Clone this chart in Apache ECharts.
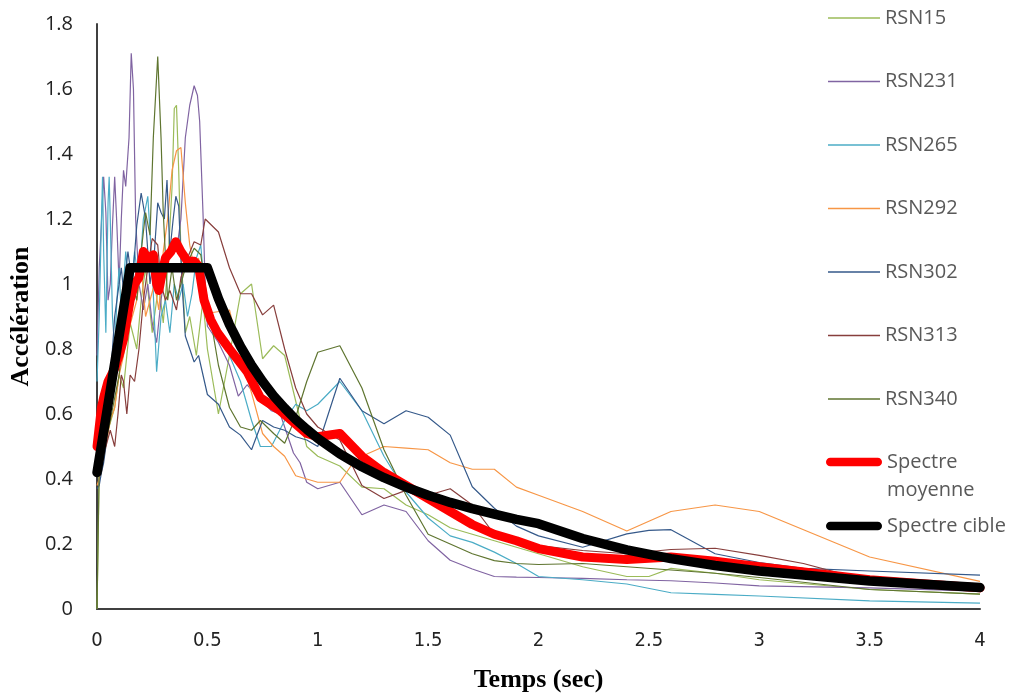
<!DOCTYPE html>
<html>
<head>
<meta charset="utf-8">
<script src="https://cdn.jsdelivr.net/npm/echarts@6/dist/echarts.min.js"></script>
<style>
html,body{margin:0;padding:0;background:#fff;}
#chart{width:1016px;height:698px;}
</style>
</head>
<body>
<div id="chart"></div>
<script>
// ---- Data (period in sec, spectral acceleration) ----
const seriesNames = ['RSN15','RSN231','RSN265','RSN292','RSN302','RSN313','RSN340','Spectre moyenne','Spectre cible'];

const rsn15 = [[0,0],[0.01,0.42],[0.02,0.45],[0.05,0.55],[0.08,0.62],[0.1,0.72],[0.12,0.68],[0.15,0.88],[0.18,0.8],[0.2,0.95],[0.22,1.05],[0.25,0.85],[0.28,1.0],[0.3,0.88],[0.32,1.05],[0.34,1.3],[0.35,1.54],[0.36,1.55],[0.37,1.35],[0.38,1.1],[0.4,0.85],[0.42,0.9],[0.45,0.78],[0.48,0.95],[0.5,0.8],[0.55,0.6],[0.6,0.78],[0.65,0.97],[0.7,1.0],[0.75,0.77],[0.8,0.81],[0.85,0.78],[0.9,0.64],[0.95,0.5],[1.0,0.47],[1.1,0.44],[1.2,0.375],[1.3,0.37],[1.4,0.32],[1.5,0.29],[1.6,0.25],[1.7,0.23],[1.8,0.21],[1.9,0.19],[2.0,0.17],[2.2,0.13],[2.4,0.1],[2.5,0.1],[2.6,0.125],[2.8,0.11],[3.0,0.09],[3.5,0.06],[4.0,0.046]];

const rsn231 = [[0,0.78],[0.01,1.05],[0.02,1.19],[0.03,1.33],[0.04,1.22],[0.05,0.95],[0.06,1.0],[0.07,1.18],[0.08,1.33],[0.09,1.18],[0.1,1.0],[0.11,1.2],[0.12,1.35],[0.13,1.3],[0.145,1.45],[0.155,1.71],[0.165,1.6],[0.175,1.2],[0.19,1.0],[0.21,0.92],[0.23,1.0],[0.25,0.88],[0.27,0.82],[0.29,0.95],[0.31,1.05],[0.33,1.1],[0.36,1.1],[0.38,1.2],[0.4,1.45],[0.42,1.55],[0.44,1.61],[0.455,1.58],[0.465,1.5],[0.48,1.22],[0.49,1.0],[0.5,0.87],[0.55,0.82],[0.6,0.75],[0.64,0.655],[0.68,0.69],[0.72,0.66],[0.79,0.61],[0.83,0.6],[0.89,0.48],[0.92,0.45],[0.95,0.39],[1.0,0.37],[1.1,0.39],[1.2,0.29],[1.3,0.32],[1.4,0.3],[1.5,0.21],[1.6,0.15],[1.7,0.123],[1.8,0.1],[1.9,0.098],[2.0,0.097],[2.2,0.094],[2.4,0.09],[2.6,0.087],[2.8,0.08],[3.0,0.071],[3.5,0.065],[4.0,0.055]];

const rsn265 = [[0,0.7],[0.01,0.9],[0.02,1.2],[0.025,1.33],[0.03,1.1],[0.04,0.85],[0.05,1.25],[0.055,1.33],[0.06,1.2],[0.07,0.9],[0.08,0.8],[0.09,0.95],[0.1,1.05],[0.11,0.9],[0.12,1.0],[0.13,1.1],[0.15,0.95],[0.17,1.1],[0.19,1.0],[0.21,1.2],[0.23,1.27],[0.25,1.05],[0.27,0.73],[0.29,0.9],[0.31,0.95],[0.33,0.85],[0.35,1.0],[0.37,0.95],[0.39,1.0],[0.41,0.9],[0.43,0.97],[0.45,1.08],[0.47,1.12],[0.49,0.95],[0.5,0.9],[0.55,0.85],[0.6,0.78],[0.65,0.7],[0.7,0.58],[0.74,0.5],[0.79,0.5],[0.85,0.58],[0.9,0.63],[0.95,0.61],[1.0,0.63],[1.1,0.7],[1.2,0.61],[1.3,0.47],[1.4,0.36],[1.5,0.28],[1.6,0.225],[1.7,0.205],[1.8,0.175],[1.9,0.14],[2.0,0.1],[2.2,0.09],[2.4,0.077],[2.6,0.05],[2.8,0.045],[3.0,0.04],[3.5,0.025],[4.0,0.018]];

const rsn292 = [[0,0.38],[0.02,0.42],[0.04,0.5],[0.06,0.58],[0.08,0.62],[0.1,0.72],[0.12,0.78],[0.14,0.85],[0.16,0.9],[0.18,0.95],[0.2,1.05],[0.22,0.9],[0.24,0.95],[0.26,1.0],[0.28,0.92],[0.3,1.1],[0.32,1.2],[0.34,1.35],[0.36,1.41],[0.38,1.42],[0.4,1.25],[0.42,1.12],[0.44,1.05],[0.46,1.08],[0.48,1.0],[0.5,0.91],[0.6,0.92],[0.65,0.78],[0.7,0.665],[0.75,0.54],[0.8,0.5],[0.85,0.47],[0.9,0.41],[0.95,0.4],[1.0,0.39],[1.1,0.39],[1.15,0.44],[1.2,0.47],[1.3,0.5],[1.4,0.495],[1.5,0.49],[1.6,0.45],[1.7,0.43],[1.8,0.43],[1.9,0.375],[2.0,0.35],[2.2,0.3],[2.4,0.24],[2.6,0.3],[2.8,0.32],[3.0,0.3],[3.5,0.16],[4.0,0.085]];

const rsn302 = [[0,0.37],[0.01,0.38],[0.02,0.42],[0.03,0.45],[0.04,0.5],[0.05,0.6],[0.06,0.7],[0.07,0.8],[0.08,0.9],[0.09,0.95],[0.1,1.0],[0.11,1.05],[0.12,0.98],[0.14,1.1],[0.16,1.0],[0.18,1.18],[0.2,1.28],[0.22,1.2],[0.24,1.0],[0.26,1.1],[0.275,1.25],[0.29,1.22],[0.305,1.2],[0.317,1.32],[0.33,1.1],[0.345,1.2],[0.357,1.27],[0.37,1.24],[0.385,1.0],[0.4,0.84],[0.42,0.8],[0.44,0.76],[0.46,0.78],[0.5,0.66],[0.55,0.63],[0.6,0.56],[0.65,0.535],[0.7,0.49],[0.75,0.58],[0.8,0.56],[0.85,0.55],[0.9,0.53],[0.95,0.52],[1.0,0.5],[1.1,0.71],[1.2,0.61],[1.3,0.57],[1.4,0.61],[1.5,0.59],[1.6,0.535],[1.7,0.376],[1.8,0.31],[1.9,0.255],[2.0,0.225],[2.2,0.19],[2.4,0.231],[2.5,0.242],[2.6,0.244],[2.8,0.17],[3.0,0.143],[3.2,0.125],[3.5,0.117],[4.0,0.104]];

const rsn313 = [[0,0.45],[0.02,0.48],[0.04,0.5],[0.06,0.55],[0.08,0.5],[0.095,0.6],[0.11,0.72],[0.12,0.7],[0.135,0.6],[0.15,0.72],[0.17,0.7],[0.19,0.8],[0.21,0.95],[0.23,1.05],[0.25,1.14],[0.275,1.12],[0.29,1.0],[0.31,0.95],[0.33,0.98],[0.36,0.92],[0.38,1.02],[0.41,1.08],[0.44,1.13],[0.47,1.12],[0.49,1.2],[0.55,1.16],[0.6,1.05],[0.65,0.97],[0.7,0.97],[0.75,0.905],[0.8,0.935],[0.85,0.8],[0.9,0.68],[0.95,0.6],[1.0,0.56],[1.1,0.52],[1.2,0.38],[1.3,0.34],[1.4,0.365],[1.5,0.35],[1.6,0.37],[1.7,0.32],[1.8,0.23],[1.9,0.2],[2.0,0.195],[2.2,0.18],[2.4,0.17],[2.6,0.183],[2.8,0.187],[3.0,0.165],[3.2,0.14],[3.5,0.086],[4.0,0.06]];

const rsn340 = [[0,0],[0.01,0.45],[0.02,0.48],[0.04,0.52],[0.06,0.58],[0.08,0.65],[0.1,0.72],[0.12,0.85],[0.14,0.9],[0.16,1.0],[0.18,0.95],[0.2,1.1],[0.22,1.22],[0.24,1.15],[0.255,1.45],[0.275,1.7],[0.29,1.45],[0.3,1.22],[0.32,0.95],[0.34,1.05],[0.36,0.95],[0.38,1.0],[0.4,1.05],[0.42,1.08],[0.44,1.11],[0.47,1.09],[0.5,0.95],[0.55,0.75],[0.6,0.62],[0.65,0.56],[0.7,0.55],[0.74,0.58],[0.8,0.54],[0.85,0.51],[0.9,0.59],[0.95,0.7],[1.0,0.79],[1.1,0.81],[1.2,0.68],[1.3,0.49],[1.4,0.35],[1.5,0.23],[1.6,0.2],[1.7,0.17],[1.8,0.149],[1.9,0.14],[2.0,0.137],[2.2,0.14],[2.4,0.13],[2.6,0.12],[2.8,0.11],[3.0,0.097],[3.5,0.06],[4.0,0.046]];

const spectreMoyenne = [[0,0.5],[0.02,0.62],[0.03,0.65],[0.05,0.7],[0.08,0.74],[0.1,0.78],[0.12,0.83],[0.15,0.95],[0.17,1.0],[0.19,1.02],[0.21,1.1],[0.235,1.075],[0.255,1.09],[0.27,1.0],[0.28,0.98],[0.3,1.05],[0.31,1.08],[0.335,1.1],[0.357,1.13],[0.38,1.1],[0.41,1.07],[0.44,1.07],[0.46,1.055],[0.485,0.95],[0.515,0.89],[0.546,0.85],[0.6,0.8],[0.68,0.73],[0.74,0.65],[0.83,0.61],[0.95,0.54],[1.0,0.53],[1.1,0.54],[1.2,0.47],[1.3,0.42],[1.4,0.38],[1.5,0.34],[1.6,0.3],[1.7,0.26],[1.8,0.23],[1.9,0.21],[2.0,0.186],[2.2,0.16],[2.4,0.152],[2.6,0.16],[2.8,0.147],[3.0,0.13],[3.5,0.09],[4.0,0.065]];

const spectreCible = [[0,0.42],[0.15,1.05],[0.5,1.05],[0.55,0.955],[0.6,0.875],[0.65,0.808],[0.7,0.75],[0.75,0.7],[0.8,0.656],[0.85,0.618],[0.9,0.583],[0.95,0.553],[1.0,0.525],[1.1,0.477],[1.2,0.4375],[1.3,0.404],[1.4,0.375],[1.5,0.35],[1.6,0.328],[1.7,0.309],[1.8,0.292],[1.9,0.276],[2.0,0.2625],[2.2,0.217],[2.4,0.182],[2.6,0.155],[2.8,0.134],[3.0,0.117],[3.5,0.086],[4.0,0.066]];

const thinColors = ['#9BBB59','#8064A2','#4BACC6','#F79646','#35598A','#873E3C','#5F7530'];

// ---- Chart ----
const chart = echarts.init(document.getElementById('chart'), null, {renderer:'canvas'});
const thinData = [rsn15, rsn231, rsn265, rsn292, rsn302, rsn313, rsn340];

const series = thinData.map((d,i) => ({
  name: seriesNames[i],
  type: 'line',
  data: d,
  showSymbol: false,
  symbol: 'none',
  animation: false,
  color: thinColors[i],
  lineStyle: {width: 1.2, color: thinColors[i]},
  z: 2
}));
series.push({
  name: seriesNames[7], type:'line', data: spectreMoyenne, symbol:'none', showSymbol:false, animation:false,
  color:'#FF0000', lineStyle:{width:9, color:'#FF0000', cap:'round', join:'round'}, z:3
});
series.push({
  name: seriesNames[8], type:'line', data: spectreCible, symbol:'none', showSymbol:false, animation:false,
  color:'#000000', lineStyle:{width:9.5, color:'#000000', cap:'round', join:'round'}, z:4
});

const capsule = 'path://M4,0 L48,0 A4,4 0 0 1 48,8 L4,8 A4,4 0 0 1 4,0 Z';
const legendFont = 'Open Sans, sans-serif';

chart.setOption({
  backgroundColor:'#ffffff',
  animation:false,
  grid:{left:96, right:36, top:24, bottom:89, containLabel:false},
  legend:[
    {
      data: seriesNames.slice(0,7), orient:'vertical', left:828, top:6, padding:0,
      icon:'rect', itemWidth:52, itemHeight:1.4, itemGap:39.5,
      textStyle:{fontFamily:legendFont, fontSize:20, color:'#595959', lineHeight:24},
      selectedMode:false
    },
    {
      data:[seriesNames[7]], orient:'vertical', left:826, top:420, padding:0,
      itemWidth:56, itemHeight:9, icon:capsule, selectedMode:false,
      formatter: n => ' \nSpectre\nmoyenne',
      textStyle:{fontFamily:legendFont, fontSize:20, color:'#595959', lineHeight:28}
    },
    {
      data:[seriesNames[8]], orient:'vertical', left:826, top:514, padding:0,
      itemWidth:56, itemHeight:9, icon:capsule, selectedMode:false,
      textStyle:{fontFamily:legendFont, fontSize:20, color:'#595959', lineHeight:24}
    }
  ],
  xAxis:{
    type:'value', min:0, max:4, interval:0.5,
    name:'Temps (sec)', nameLocation:'middle', nameGap:58,
    nameTextStyle:{fontFamily:'Liberation Serif, Times New Roman, serif', fontWeight:'bold', fontSize:26, color:'#000'},
    axisLine:{show:true, lineStyle:{color:'#404040', width:2}},
    axisTick:{show:false},
    splitLine:{show:false},
    axisLabel:{fontFamily:'Liberation Sans Narrow, DejaVu Sans Condensed, sans-serif', fontSize:20, color:'#222', margin:22}
  },
  yAxis:{
    type:'value', min:0, max:1.8, interval:0.2,
    name:'Accélération', nameLocation:'middle', nameGap:60,
    nameTextStyle:{fontFamily:'Liberation Serif, Times New Roman, serif', fontWeight:'bold', fontSize:26, color:'#000'},
    axisLine:{show:true, lineStyle:{color:'#404040', width:2}},
    axisTick:{show:false},
    splitLine:{show:false},
    axisLabel:{fontFamily:'Open Sans, sans-serif', fontSize:20, color:'#222', margin:24}
  },
  series: series
});
</script>
</body>
</html>
